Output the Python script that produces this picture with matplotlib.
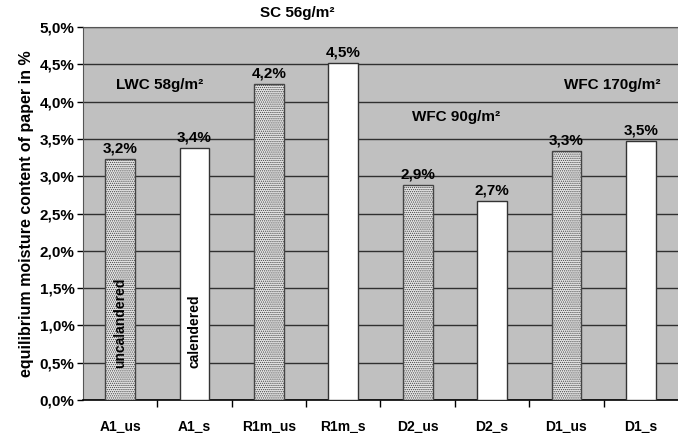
import matplotlib
matplotlib.use("Agg")
import matplotlib.pyplot as plt
from matplotlib.ticker import FixedLocator

plt.rcParams['font.family'] = ['Liberation Sans', 'DejaVu Sans']
plt.rcParams['hatch.color'] = '#8a8a8a'
plt.rcParams['hatch.linewidth'] = 0.6

categories = ['A1_us', 'A1_s', 'R1m_us', 'R1m_s', 'D2_us', 'D2_s', 'D1_us', 'D1_s']
moisture = [3.23, 3.38, 4.23, 4.52, 2.88, 2.67, 3.34, 3.47]
calendered = [False, True, False, True, False, True, False, True]
y_ticks = [0.0, 0.5, 1.0, 1.5, 2.0, 2.5, 3.0, 3.5, 4.0, 4.5, 5.0]
y_tick_labels = ['0,0%', '0,5%', '1,0%', '1,5%', '2,0%', '2,5%', '3,0%', '3,5%', '4,0%', '4,5%', '5,0%']
group_labels = ['LWC 58g/m²', 'SC 56g/m²', 'WFC 90g/m²', 'WFC 170g/m²']
group_x = [0.53, 2.38, 4.51, 6.62]
group_y = [4.22, 5.19, 3.79, 4.22]

fig = plt.figure(figsize=(6.78, 4.33), dpi=100)
ax = fig.add_axes([0.1224, 0.0762, 0.8776, 0.8614])
ax.set_facecolor('#c0c0c0')

x = list(range(len(categories)))
for xi, v, cal in zip(x, moisture, calendered):
    if cal:
        ax.bar(xi, v, width=0.4, color='white', edgecolor='#333333', linewidth=1.0, zorder=3)
    else:
        ax.bar(xi, v, width=0.4, color='#e6e6e6', edgecolor='#444444', linewidth=1.0,
               hatch='........', zorder=3)
    label = f"{v:.1f}%".replace('.', ',')
    ax.text(xi, v + 0.05, label, ha='center', va='bottom', fontsize=11,
            fontweight='bold', zorder=4)

ax.text(0, 0.43, 'uncalandered', rotation=90, ha='center', va='bottom',
        fontsize=10, fontweight='bold', zorder=4)
ax.text(1, 0.43, 'calendered', rotation=90, ha='center', va='bottom',
        fontsize=10, fontweight='bold', zorder=4)

for gx, gy, gl in zip(group_x, group_y, group_labels):
    ax.text(gx, gy, gl, ha='center', va='center', fontsize=11, fontweight='bold',
            zorder=4, clip_on=False)

ax.set_xlim(-0.5, len(categories) - 0.5)
ax.set_ylim(0, 5.0)
ax.set_yticks(y_ticks)
ax.set_yticklabels(y_tick_labels, fontsize=11, fontweight='bold')
ax.set_xticks(x)
ax.set_xticklabels(categories, fontsize=10, fontweight='bold')
ax.tick_params(axis='x', which='major', length=0, pad=14)
ax.xaxis.set_minor_locator(FixedLocator([i + 0.5 for i in range(len(categories) - 1)]))
ax.tick_params(axis='x', which='minor', length=5, width=1, direction='out', color='black')
ax.tick_params(axis='y', length=4, width=1, direction='out', pad=2)

ax.yaxis.grid(True, color='#303030', linewidth=1.0, zorder=1)
ax.set_axisbelow(True)

ax.set_ylabel('equilibrium moisture content of paper in %', fontsize=11.5,
              fontweight='bold', labelpad=4)

ax.spines['top'].set_color('#555555')
ax.spines['right'].set_visible(False)
ax.spines['left'].set_color('#555555')
ax.spines['bottom'].set_color('black')
ax.spines['bottom'].set_linewidth(1.2)

fig.savefig('out.png', dpi=100)
